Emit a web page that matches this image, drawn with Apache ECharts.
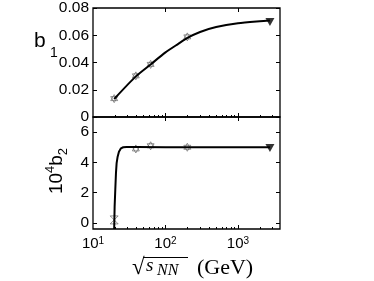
<!DOCTYPE html>
<html>
<head>
<meta charset="utf-8">
<script src="https://cdn.jsdelivr.net/npm/echarts@6/dist/echarts.min.js"></script>
<style>html,body{margin:0;padding:0;background:#fff}#chart{width:374px;height:281px}</style>
</head>
<body>
<div id="chart"></div>
<script>
// measured points (sqrt(s_NN) in GeV)
var energies = [19.6, 39, 62.4, 200];
var b1Points = [0.0135, 0.0302, 0.0386, 0.0588];
var b2Points = [0.2, 4.89, 5.1, 5.0];
var lhcEnergy = [2760];
var b1Lhc = [0.0697];
var b2Lhc = [4.95];

// fitted curves
var b1CurveE = [19.6, 39, 62.4, 100, 150, 200, 300, 500, 1000, 2000, 2760];
var b1CurveV = [0.0132, 0.0298, 0.0386, 0.0474, 0.0537, 0.0580, 0.0624, 0.0660, 0.0688, 0.0703, 0.0708];
var b2CurveE = [19.6, 19.88, 20.3, 20.74, 21.18, 21.87, 22.8, 24.3, 26.1, 29.1, 40, 100, 2760];
var b2CurveV = [-0.4, 1.09, 2.19, 3.29, 3.95, 4.38, 4.71, 4.93, 5.0, 5.02, 5.02, 5.0, 5.0];

// ticks
var xMajor = [10, 100, 1000];
var xMinor = [20, 30, 40, 50, 60, 70, 80, 90, 200, 300, 400, 500, 600, 700, 800, 900, 2000, 3000];
var b1Ticks = [0, 0.02, 0.04, 0.06, 0.08];
var b2Ticks = [0, 2, 4, 6];

var chart = echarts.init(document.getElementById('chart'));

var hexagram = 'path://M0,-10L8.66,5L-8.66,5Z M0,10L8.66,-5L-8.66,-5Z';
var hourglass = 'path://M-5,-5L5,-5L-5,5L5,5Z';
var sans = 'Liberation Sans';
var serif = 'Liberation Serif';

function pairs(a, b) {
	return a.map(function (v, i) { return [v, b[i]]; });
}

function xAx(grid, pos, ticks, len, labels) {
	return {
		type: 'log', logBase: 10, gridIndex: grid, position: pos, min: 10, max: 3800,
		axisLine: {show: false, onZero: false},
		splitLine: {show: false},
		axisTick: {show: true, inside: true, length: len, customValues: ticks, lineStyle: {color: '#000', width: 1}},
		axisLabel: labels ? {
			show: true, customValues: xMajor, margin: 7, color: '#000', fontFamily: sans, fontSize: 15,
			formatter: function (v) { return '10{s|' + Math.round(Math.log10(v)) + '}'; },
			rich: {s: {fontSize: 10, lineHeight: 10, verticalAlign: 'top', fontFamily: sans, color: '#000'}}
		} : {show: false}
	};
}

function yAx(grid, pos, min, max, ticks, labels) {
	return {
		type: 'value', gridIndex: grid, position: pos, min: min, max: max,
		axisLine: {show: false, onZero: false},
		splitLine: {show: false},
		axisTick: {show: true, inside: true, length: 4, customValues: ticks, lineStyle: {color: '#000', width: 1}},
		axisLabel: labels ? {
			show: true, customValues: ticks, margin: 4, color: '#000', fontFamily: sans, fontSize: 15.5,
			formatter: function (v) { return v === 0 ? '0' : (max < 1 ? v.toFixed(2) : String(v)); }
		} : {show: false}
	};
}

function txt(x, y, text, size, family, extra) {
	var style = {text: text, fontSize: size, fontFamily: family, fill: '#000', verticalAlign: 'middle'};
	for (var k in extra) style[k] = extra[k];
	return {type: 'text', x: x, y: y, style: style};
}

var option = {
	animation: false,
	grid: [
		{left: 93, top: 5, width: 187, height: 112, show: true, borderColor: '#000', borderWidth: 1.3},
		{left: 93, top: 117, width: 187, height: 112, show: true, borderColor: '#000', borderWidth: 1.3}
	],
	xAxis: [
		xAx(0, 'bottom', [100, 1000], 4, false),
		xAx(0, 'top', [100, 1000], 4, false),
		xAx(0, 'bottom', xMinor, 2, false),
		xAx(1, 'bottom', [100, 1000], 4, true),
		xAx(1, 'top', [100, 1000], 4, false),
		xAx(1, 'bottom', xMinor, 2, false)
	],
	yAxis: [
		yAx(0, 'left', 0, 0.08, b1Ticks, true),
		yAx(0, 'right', 0, 0.08, b1Ticks, false),
		yAx(1, 'left', -0.4, 7, b2Ticks, true),
		yAx(1, 'right', -0.4, 7, b2Ticks, false)
	],
	graphic: [
		// y name, top panel: b_1
		txt(34, 41, 'b', 21, sans),
		txt(50, 53, '1', 14, sans),
		// y name, bottom panel: 10^4 b_2 (rotated)
		{
			type: 'text', x: 57, y: 171, rotation: Math.PI / 2,
			style: {
				text: '10{sup|4}b{sub|2}', fontSize: 19, fontFamily: sans, fill: '#000',
				align: 'center', verticalAlign: 'middle', lineHeight: 26,
				rich: {
					sup: {fontSize: 13, lineHeight: 12, verticalAlign: 'top', fontFamily: sans},
					sub: {fontSize: 13, lineHeight: 12, verticalAlign: 'bottom', fontFamily: sans}
				}
			}
		},
		// x name: sqrt(s_NN) (GeV)
		txt(132, 268, '√', 23, serif),
		txt(146, 266, 's', 19, serif, {fontStyle: 'italic'}),
		txt(157, 271, 'NN', 16, serif, {fontStyle: 'italic'}),
		txt(197, 268, '(GeV)', 22, serif),
		{
			type: 'line', shape: {x1: 143, y1: 257.5, x2: 188, y2: 257.5},
			style: {stroke: '#000', lineWidth: 1}
		}
	],
	series: [
		{
			type: 'line', xAxisIndex: 0, yAxisIndex: 0, data: pairs(b1CurveE, b1CurveV),
			smooth: 0.25, showSymbol: false, lineStyle: {color: '#000', width: 2}
		},
		{
			type: 'scatter', xAxisIndex: 0, yAxisIndex: 0, data: pairs(energies, b1Points),
			symbol: hexagram, symbolSize: 8, symbolKeepAspect: true,
			itemStyle: {color: '#fff', borderColor: '#555', borderWidth: 0.8}
		},
		{
			type: 'scatter', xAxisIndex: 0, yAxisIndex: 0, data: pairs(lhcEnergy, b1Lhc),
			symbol: 'triangle', symbolRotate: 180, symbolSize: [9, 8], itemStyle: {color: '#000'}
		},
		{
			type: 'line', xAxisIndex: 3, yAxisIndex: 2, data: pairs(b2CurveE, b2CurveV),
			showSymbol: false, clip: true, lineStyle: {color: '#000', width: 2}
		},
		{
			type: 'scatter', xAxisIndex: 3, yAxisIndex: 2,
			data: pairs(energies, b2Points).map(function (p, i) {
				return i === 0 ? {value: p, symbol: hourglass} : p;
			}),
			symbol: hexagram, symbolSize: 8, symbolKeepAspect: true,
			itemStyle: {color: '#fff', borderColor: '#555', borderWidth: 0.8}
		},
		{
			type: 'scatter', xAxisIndex: 3, yAxisIndex: 2, data: pairs(lhcEnergy, b2Lhc),
			symbol: 'triangle', symbolRotate: 180, symbolSize: [9, 8], itemStyle: {color: '#000'}
		}
	]
};
chart.setOption(option);
</script>
</body>
</html>
